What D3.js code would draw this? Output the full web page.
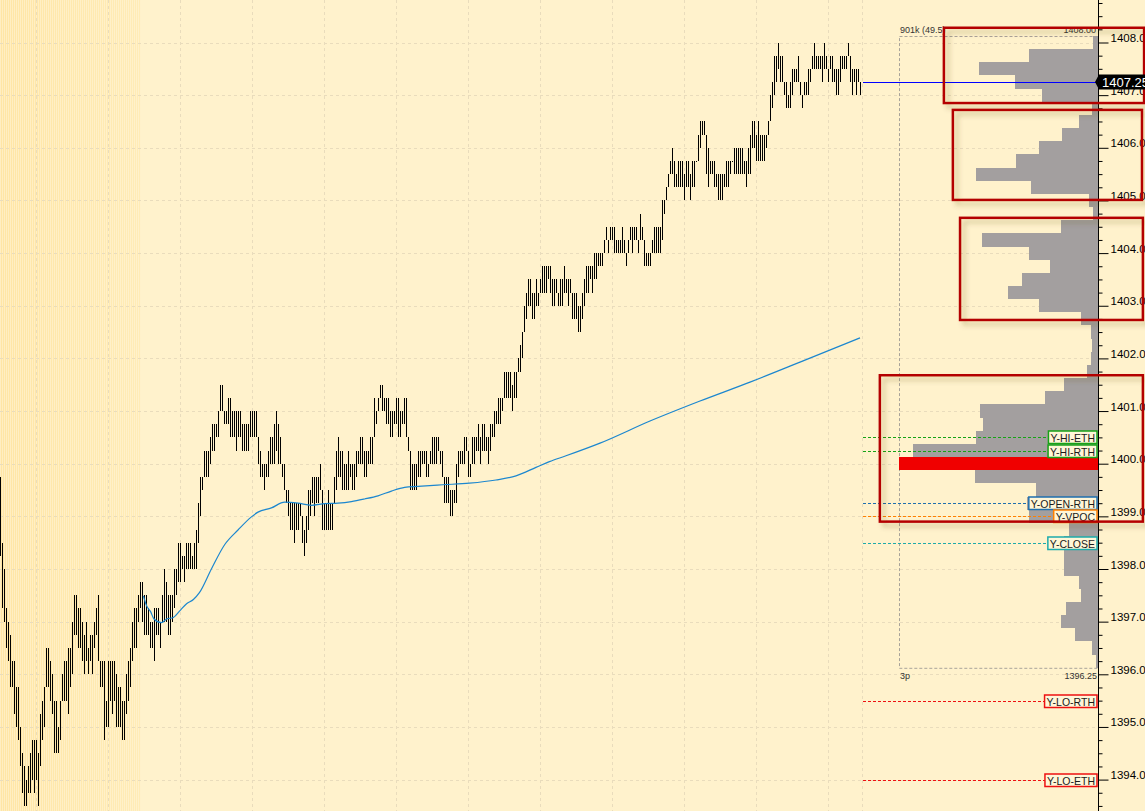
<!DOCTYPE html>
<html>
<head>
<meta charset="utf-8">
<script src="https://cdn.jsdelivr.net/npm/d3@7"></script>
<style>
  html, body { margin: 0; padding: 0; background: #fff2cc; overflow: hidden; }
  svg { display: block; font-family: "Liberation Sans", Arial, sans-serif; }
</style>
</head>
<body>
<div id="chart"></div>
<script>
// bar highs / lows, one per bar (0..430)
const highs = [
  1399.75,1398.5,1398,1397.25,1397,1396.75,1396.25,1396.25,1395.75,1395.75,
  1395,1394.5,1394.25,1394,1394.25,1394.5,1394.75,1394.75,1394.75,1394.5,
  1395.25,1395.5,1395.75,1396.5,1396.5,1396.25,1396,1395.5,1395.5,1395,
  1395.5,1396,1396.25,1396.25,1396.5,1396.5,1397,1397.5,1397.5,1397.25,
  1397.25,1397,1396.75,1397,1396.5,1396.75,1396.75,1397,1397.25,1397.5,
  1396.25,1396.25,1396.25,1395.5,1396.25,1396.25,1396.25,1396.25,1396,1395.75,
  1395.75,1395.5,1395.5,1396,1396.25,1396.5,1397,1397.25,1397.25,1397.5,
  1397.75,1397.75,1397.5,1397.5,1397.25,1397,1397,1397.25,1397.25,1397.25,
  1397,1397.5,1398,1397.75,1397.5,1397.5,1397.5,1398,1398,1398.5,
  1398.5,1398.25,1398.25,1398.5,1398.5,1398.5,1398.25,1398.5,1398.75,1399.25,
  1399.75,1399.75,1400.25,1400.25,1400.25,1400.5,1400.75,1400.75,1400.75,1401,
  1401.5,1401.5,1401,1401,1401.25,1401.25,1401,1401,1401,1401,
  1401,1400.75,1400.75,1400.75,1400.75,1401,1401,1401,1401,1400.5,
  1400.25,1400,1400,1400,1400.25,1400.5,1400.5,1400.75,1401,1400.75,
  1400.5,1400,1400,1399.5,1399.5,1399.25,1399.25,1399.25,1399.25,1399.25,
  1399.25,1399,1398.75,1399,1399.5,1399.5,1399.75,1399.75,1399.75,1399.75,
  1400,1399.5,1399.25,1399.25,1399.5,1399.25,1399.25,1399.75,1400.25,1400.5,
  1400.25,1400.25,1400,1400,1400.25,1400,1400,1400,1400.25,1400.25,
  1400.5,1400.5,1400.25,1400.25,1400.25,1400.5,1400.5,1401.25,1401,1401.25,
  1401.5,1401.5,1401.25,1401.25,1401.25,1401,1401,1401,1401.25,1401.25,
  1401,1401,1401.25,1401.25,1400.5,1400.25,1400,1400,1400,1400.25,
  1400.25,1400.25,1400.25,1400.25,1400,1400.25,1400.5,1400.5,1400.5,1400.5,
  1400.25,1400.25,1399.75,1399.75,1399.75,1399.5,1399.5,1399.5,1400,1400.25,
  1400.25,1400.25,1400.5,1400.5,1400.25,1400,1400.5,1400.5,1400.5,1400.75,
  1400.5,1400.75,1400.75,1400.5,1400.5,1400.75,1400.75,1401,1401,1401.25,
  1401.25,1401.25,1401.75,1401.75,1401.75,1401.75,1401.5,1401.75,1401.75,1402,
  1402.25,1402.5,1403,1403.25,1403.5,1403.5,1403.25,1403.25,1403.5,1403.25,
  1403.5,1403.75,1403.75,1403.75,1403.75,1403.75,1403.5,1403.5,1403.5,1403.25,
  1403.5,1403.5,1403.75,1403.5,1403.5,1403.5,1403.25,1403.25,1403.25,1403,
  1403,1403.25,1403.5,1403.75,1403.75,1403.75,1403.75,1404,1404,1404,
  1404,1404,1404.25,1404.5,1404.25,1404.5,1404.5,1404.5,1404.25,1404.25,
  1404.25,1404.5,1404.25,1404,1404.25,1404.5,1404.5,1404.5,1404.5,1404.25,
  1404.75,1404.5,1404.25,1404,1404,1404,1404.25,1404.5,1404.5,1404.5,
  1404.5,1405,1405,1405.25,1405.5,1405.75,1406,1405.75,1405.5,1405.75,
  1405.75,1405.75,1405.5,1405.75,1405.75,1405.5,1405.75,1405.75,1405.75,1406.25,
  1406.5,1406.5,1406.5,1406.25,1406,1405.75,1405.75,1405.75,1405.5,1405.5,
  1405.5,1405.5,1405.5,1405.75,1405.75,1405.75,1405.75,1406,1406,1406,
  1406,1406,1405.75,1405.75,1406,1406.25,1406.5,1406.5,1406.25,1406.5,
  1406.25,1406.25,1406.25,1406.25,1406.5,1407,1407.25,1407.75,1407.75,1408,
  1407.75,1407.75,1407.25,1407.25,1407,1407.25,1407.5,1407.5,1407.5,1407.75,
  1407.25,1407,1407.25,1407.25,1407.5,1407.5,1407.75,1408,1407.75,1407.75,
  1407.75,1407.75,1408,1407.75,1407.5,1407.75,1407.75,1407.5,1407.5,1407.5,
  1407.75,1407.75,1407.75,1407.75,1408,1407.75,1407.5,1407.5,1407.5,1407.5,
  1407.25
];
const lows = [
  1398.25,1397.25,1397,1396.5,1396.25,1395.75,1395.75,1395.25,1395,1394.75,
  1394.25,1393.75,1393.5,1393.5,1393.75,1393.75,1394,1393.75,1394,1393.5,
  1394.25,1394.75,1395,1395.75,1395.75,1395.5,1395.25,1394.5,1394.5,1394.5,
  1394.75,1395.5,1395.5,1395.5,1395.25,1395.75,1396,1396.75,1396.75,1396.5,
  1396.5,1396.25,1396,1396.25,1396,1396.25,1396,1396.5,1396.75,1396.25,
  1395.75,1395.75,1394.75,1395,1395,1395.5,1395.25,1395.5,1395,1395,
  1395,1394.75,1394.75,1395.25,1395.5,1395.75,1396.25,1396.5,1396.5,1397,
  1397.25,1397,1396.75,1396.75,1396.75,1396.5,1396.5,1396.25,1396.75,1396.75,
  1396.5,1397,1397,1397,1396.75,1396.75,1397,1397.25,1397.5,1397.75,
  1397.75,1398,1397.75,1398,1398,1398,1398,1398,1398,1398.5,
  1399,1399.5,1399.75,1399.75,1399.75,1400,1400.25,1400.25,1400.5,1400.5,
  1401,1401,1400.75,1400.75,1400.75,1400.5,1400.5,1400.5,1400.25,1400.5,
  1400.5,1400.25,1400.25,1400.25,1400.25,1400.5,1400.5,1400.5,1400.5,1400,
  1399.75,1399.75,1399.5,1399.75,1399.75,1400,1400,1400,1400.25,1400,
  1400,1399.75,1399.5,1399.25,1399,1398.75,1398.75,1398.5,1398.75,1398.75,
  1399,1398.5,1398.25,1398.5,1398.75,1399,1399.25,1399,1399.25,1399.25,
  1399.5,1398.75,1398.75,1398.75,1398.75,1398.75,1398.75,1399.25,1399.5,1399.75,
  1399.75,1399.5,1399.5,1399.5,1399.5,1399.75,1399.5,1399.5,1399.75,1400,
  1400,1400,1399.75,1399.75,1400,1400,1400,1400.5,1400.75,1401,
  1401.25,1401,1401,1400.75,1400.75,1400.5,1400.5,1400.75,1400.75,1400.5,
  1400.5,1400.75,1400.75,1400.5,1400.25,1399.5,1399.5,1399.5,1399.5,1399.75,
  1399.75,1400,1400,1399.75,1399.75,1400,1400,1400,1400,1400.25,
  1400,1399.75,1399.25,1399.25,1399.25,1399,1399,1399.25,1399.25,1399.75,
  1400,1400,1400,1400.25,1399.75,1399.75,1400,1400,1400.25,1400.25,
  1400,1400.25,1400.25,1400.25,1400,1400.25,1400.5,1400.5,1400.75,1400.75,
  1400.75,1401,1401.25,1401.25,1401.25,1401.25,1401,1401.25,1401.25,1401.75,
  1401.75,1402,1402.5,1402.75,1403,1403,1402.75,1402.75,1403,1403,
  1403.25,1403.25,1403.25,1403.25,1403.5,1403.25,1403,1403,1403.25,1403,
  1403,1403,1403.25,1403.25,1403,1403.25,1402.75,1402.75,1402.75,1402.5,
  1402.5,1402.75,1403,1403.25,1403.25,1403.5,1403.25,1403.5,1403.5,1403.75,
  1403.75,1403.75,1404,1404.25,1404,1404.25,1404.25,1404,1404,1404,
  1404,1404,1404,1403.75,1404,1404.25,1404,1404.25,1404.25,1404,
  1404.25,1404.25,1403.75,1403.75,1403.75,1403.75,1404,1404,1404,1404,
  1404,1404.25,1404.75,1405,1405.25,1405.5,1405.5,1405.25,1405.25,1405.25,
  1405.25,1405.25,1405,1405.25,1405.25,1405,1405.25,1405.25,1405.75,1405.75,
  1406,1406.25,1406.25,1405.5,1405.25,1405.5,1405.5,1405.25,1405.25,1405,
  1405,1405,1405.25,1405.25,1405.25,1405.5,1405.75,1405.5,1405.5,1405.5,
  1405.5,1405.5,1405.5,1405.25,1405.5,1405.5,1406,1406,1405.75,1405.75,
  1405.75,1405.75,1405.75,1406,1406.25,1406.5,1406.75,1407,1407.25,1407.5,
  1407.25,1407.25,1407,1406.75,1406.75,1406.75,1407,1407.25,1407.25,1407.25,
  1407,1406.75,1407,1407,1407,1407.25,1407.5,1407.5,1407.5,1407.5,
  1407.5,1407.25,1407.5,1407.5,1407.25,1407.5,1407.25,1407.25,1407,1407,
  1407.25,1407.5,1407.5,1407.5,1407.75,1407.25,1407,1407.25,1407,1407.25,
  1407
];

// session average line (bar index, price)
const maBars = [71.7,73.3,75.3,77,80.8,83.3,86.7,90,93.3,96.7,99.7,105.7,112.3,119,125.7,129,
  135.7,142.3,149,155.7,162.3,169,175.7,182.3,189,195.7,202.3,209,221.3,234.7,248,258,268,
  274.7,283,300,325,350,375,400,430];
const maValues = [1397.49,1397.30,1397.19,1397.05,1396.98,1397.05,1397.08,1397.21,1397.34,1397.42,
  1397.55,1398.0,1398.46,1398.74,1398.99,1399.08,1399.16,1399.27,1399.25,1399.21,1399.24,1399.25,
  1399.28,1399.33,1399.39,1399.48,1399.55,1399.57,1399.6,1399.63,1399.69,1399.77,1399.93,1400.04,
  1400.15,1400.39,1400.81,1401.19,1401.55,1401.93,1402.39];

// time grid (bar index) and the end of the shaded overnight part
const timeTicks = [18, 54, 90, 126, 162, 198, 234, 270, 306, 342, 378, 414, 431];
const overnightEndBar = 70.5;

// price axis
const priceTicks = [1394,1395,1396,1397,1398,1399,1400,1401,1402,1403,1404,1405,1406,1407,1408];

// volume profile (price, volume in k)
const profilePrices = [1408,1407.75,1407.5,1407.25,1407,1406.75,1406.5,1406.25,1406,1405.75,
  1405.5,1405.25,1405,1404.75,1404.5,1404.25,1404,1403.75,1403.5,1403.25,1403,1402.75,1402.5,
  1402.25,1402,1401.75,1401.5,1401.25,1401,1400.75,1400.5,1400.25,1400,1399.75,1399.5,1399.25,
  1399,1398.75,1398.5,1398.25,1398,1397.75,1397.5,1397.25,1397,1396.75,1396.5,1396.25];
const profileVolumes = [1.7,23.0,39.7,27.7,18.7,2.0,6.3,12.0,19.7,27.4,
  40.7,22.4,3.0,1.7,12.4,38.7,23.0,16.0,25.4,30.1,19.7,5.7,2.3,
  2.0,2.3,3.7,11.4,17.7,39.4,38.4,40.7,61.8,66.5,41.1,20.7,23.7,
  23.0,9.7,11.4,11.4,11.4,6.3,5.7,10.7,12.4,7.7,2.0,0.7];
const pocPrice = 1400;
const profileInfo = "901k (49.5)";
const profileStartLabel = "3p";

// prior-day reference levels
const refNames = ["Y-HI-ETH", "Y-HI-RTH", "Y-OPEN-RTH", "Y-VPOC", "Y-CLOSE", "Y-LO-RTH", "Y-LO-ETH"];
const refPrices = [1400.5, 1400.25, 1399.25, 1399, 1398.5, 1395.5, 1394];
const refColors = ["#17a317", "#17a317", "#1f6fae", "#ff8000", "#1eaaaa", "#ee1111", "#ee1111"];

// hand-drawn boxes: price range, left/right edge in volume units from the axis
const boxTops = [1408.28, 1406.72, 1404.67, 1401.68];
const boxBottoms = [1406.85, 1405.01, 1402.73, 1398.90];
const boxLeftVol = [51.5, 48.5, 46.1, 72.9];
const boxRightVol = [-15.4, -14.7, -15.0, -15.0];

const lastPrice = 1407.25;

const W = 1145, H = 811, axisX = 1098;

const svg = d3.select("#chart").append("svg").attr("width", W).attr("height", H);
const defs = svg.append("defs");

const grad = defs.append("linearGradient").attr("id", "nightShade").attr("x1", "0").attr("x2", "1");
grad.append("stop").attr("offset", "0%").attr("stop-color", "#ffe5a4");
grad.append("stop").attr("offset", "100%").attr("stop-color", "#ffebb6");
const pat = defs.append("pattern").attr("id", "stripes")
  .attr("width", 2).attr("height", 10).attr("patternUnits", "userSpaceOnUse");
pat.append("rect").attr("width", 1).attr("height", 10).attr("fill", "#fff8e0").attr("opacity", 0.5);

const shadow = defs.append("filter").attr("id", "boxShadow")
  .attr("x", "-10%").attr("y", "-10%").attr("width", "130%").attr("height", "140%");
shadow.append("feDropShadow").attr("dx", 4).attr("dy", 4).attr("stdDeviation", 2.5)
  .attr("flood-color", "#5a4a20").attr("flood-opacity", 0.3);

const x = d3.scaleLinear().domain([0, 430]).range([0, 860]);
const y = d3.scaleLinear().domain([1396, 1408]).range([674.3, 42.5]);
const vx = d3.scaleLinear().domain([0, d3.max(profileVolumes)]).range([0, 199]);
const half = 0.125;

// background
svg.append("rect").attr("width", W).attr("height", H).attr("fill", "#fff2cc");
svg.append("rect").attr("width", x(overnightEndBar)).attr("height", H).attr("fill", "url(#nightShade)");
svg.append("rect").attr("width", x(overnightEndBar)).attr("height", H).attr("fill", "url(#stripes)");

// grid
const grid = svg.append("g").attr("stroke", "#e9dcbc").attr("stroke-dasharray", "3,3").attr("shape-rendering", "crispEdges");
grid.selectAll(".hgrid").data(priceTicks).join("line")
  .attr("x1", 0).attr("x2", axisX)
  .attr("y1", d => Math.round(y(d)) + 0.5).attr("y2", d => Math.round(y(d)) + 0.5);
grid.selectAll(".vgrid").data(timeTicks).join("line")
  .attr("x1", d => Math.round(x(d)) + 0.5).attr("x2", d => Math.round(x(d)) + 0.5)
  .attr("y1", 0).attr("y2", H);

// volume profile
const profile = svg.append("g");
const pMax = d3.max(profilePrices), pMin = d3.min(profilePrices);
profile.append("rect")
  .attr("x", axisX - vx(d3.max(profileVolumes)) + 0.5)
  .attr("y", Math.round(y(pMax + half)) + 0.5)
  .attr("width", vx(d3.max(profileVolumes)) - 1)
  .attr("height", y(pMin - half) - y(pMax + half))
  .attr("fill", "none").attr("stroke", "#a8a39a").attr("stroke-dasharray", "3,2");

profile.selectAll(".bin").data(profilePrices).join("rect")
  .attr("x", (d, i) => axisX - vx(profileVolumes[i]))
  .attr("width", (d, i) => vx(profileVolumes[i]))
  .attr("y", d => y(d + half))
  .attr("height", d => y(d - half) - y(d + half))
  .attr("fill", d => d === pocPrice ? "#f00000" : "#a39f9f")
  .attr("shape-rendering", "crispEdges");

profile.append("text").attr("x", axisX - vx(d3.max(profileVolumes)) + 1).attr("y", y(pMax + half) - 3)
  .attr("font-size", "9px").attr("fill", "#333").text(profileInfo);
profile.append("text").attr("x", axisX - 2).attr("y", y(pMax + half) - 3)
  .attr("text-anchor", "end").attr("font-size", "9px").attr("fill", "#333").text(d3.format(".2f")(pMax));
profile.append("text").attr("x", axisX - vx(d3.max(profileVolumes)) + 1).attr("y", y(pMin - half) + 11)
  .attr("font-size", "9px").attr("fill", "#333").text(profileStartLabel);
profile.append("text").attr("x", axisX - 1).attr("y", y(pMin - half) + 11)
  .attr("text-anchor", "end").attr("font-size", "9px").attr("fill", "#333").text(d3.format(".2f")(pMin));

// price bars
svg.append("g").selectAll("rect").data(highs).join("rect")
  .attr("x", (d, i) => Math.round(x(i)))
  .attr("width", 1)
  .attr("y", d => y(d))
  .attr("height", (d, i) => Math.max(1.5, y(lows[i]) - y(d)))
  .attr("fill", "#000")
  .attr("shape-rendering", "crispEdges");

// session average
const maLine = d3.line().x(d => x(d[0])).y(d => y(d[1])).curve(d3.curveMonotoneX);
svg.append("path").datum(maBars.map((b, i) => [b, maValues[i]]))
  .attr("d", maLine).attr("fill", "none").attr("stroke", "#1c87cf").attr("stroke-width", 1.2);

// reference levels
const lineStart = x(highs.length - 1) + 3;
const refs = svg.append("g").attr("font-size", "10.5px");
refNames.forEach((name, i) => {
  const yy = Math.round(y(refPrices[i])) + 0.5;
  const g = refs.append("g");
  const line = g.append("line").attr("x1", lineStart).attr("y1", yy).attr("y2", yy)
    .attr("stroke", refColors[i]).attr("stroke-dasharray", "3,2");
  const box = g.append("rect");
  const t = g.append("text").attr("y", yy + 4).attr("fill", "#1a1a1a").text(name);
  const w = t.node().getComputedTextLength() + 4;
  const bx = axisX - 1 - w;
  t.attr("x", bx + 2);
  box.attr("x", bx).attr("y", yy - 6.5).attr("width", w).attr("height", 12.5)
    .attr("fill", "#fff6d8").attr("stroke", refColors[i]).attr("stroke-width", 1.5);
  line.attr("x2", bx);
});

// last price line
svg.append("line").attr("x1", lineStart).attr("x2", axisX)
  .attr("y1", Math.round(y(lastPrice)) + 0.5).attr("y2", Math.round(y(lastPrice)) + 0.5)
  .attr("stroke", "#0000ff").attr("stroke-width", 1.2);

// axis
const axisG = svg.append("g").attr("transform", `translate(${axisX + 0.5},0)`);
axisG.append("line").attr("y1", 0).attr("y2", H).attr("stroke", "#000");
const minorTicks = d3.range(1393.5, 1408.8, 0.25).filter(v => v % 1 !== 0);
axisG.append("g")
  .call(d3.axisRight(y).tickValues(minorTicks).tickSize(4).tickFormat(""))
  .call(g => g.select(".domain").remove());
axisG.append("g")
  .call(d3.axisRight(y).tickValues(priceTicks).tickSize(10).tickPadding(2).tickFormat(d3.format(".2f")))
  .call(g => g.select(".domain").remove())
  .call(g => g.selectAll("text").attr("dy", "-1").attr("font-size", "11.5px")
    .attr("font-family", "'Liberation Sans', Arial, sans-serif").attr("fill", "#000"));

// annotation boxes
svg.append("g").selectAll("rect").data(boxTops).join("rect")
  .attr("x", (d, i) => axisX - vx(boxLeftVol[i]))
  .attr("width", (d, i) => vx(boxLeftVol[i]) - vx(boxRightVol[i]))
  .attr("y", d => y(d))
  .attr("height", (d, i) => y(boxBottoms[i]) - y(d))
  .attr("fill", "none").attr("stroke", "#b40000").attr("stroke-width", 2.5)
  .attr("filter", "url(#boxShadow)");

// last price tag
const ly = y(lastPrice);
svg.append("path")
  .attr("d", `M${axisX - 3},${ly} L${axisX + 1},${ly - 7.5} L${W + 5},${ly - 7.5} L${W + 5},${ly + 7.5} L${axisX + 1},${ly + 7.5} Z`)
  .attr("fill", "#000");
svg.append("text").attr("x", axisX + 4).attr("y", ly + 5)
  .attr("font-size", "13px").attr("fill", "#fff").text(d3.format(".2f")(lastPrice));
</script>
</body>
</html>
